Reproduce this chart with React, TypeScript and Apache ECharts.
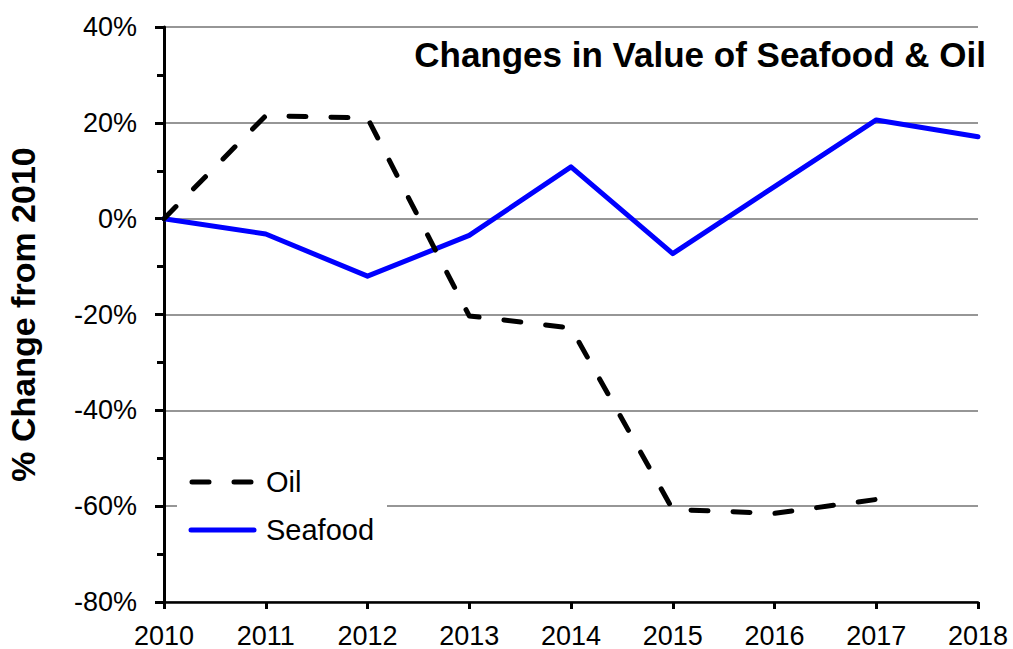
import React, { useEffect, useRef } from "react";
import * as echarts from "echarts";

const years = ["2010", "2011", "2012", "2013", "2014", "2015", "2016", "2017", "2018"];
const oil = [0, 21.5, 21.0, -20.3, -22.8, -60.7, -61.5, -58.6, null];
const seafood = [0, -3.2, -12.0, -3.5, 10.8, -7.3, 6.7, 20.6, 17.1];
const legendNames = ["Oil", "Seafood"];
const titleText = "Changes in Value of Seafood & Oil";
const yAxisName = "% Change from 2010";

const FONT = "'Liberation Sans', Arial, sans-serif";
const OIL_STYLE = { color: "#000", width: 5, type: [17, 25] as number[], cap: "round", join: "round" };
const SEA_STYLE = { color: "#0000ff", width: 5, cap: "round", join: "round" };

export default function App() {
  const ref = useRef<HTMLDivElement>(null);
  useEffect(() => {
    const chart = echarts.init(ref.current!, null, { renderer: "svg" });
    chart.setOption({
      animation: false,
      backgroundColor: "#fff",
      textStyle: { fontFamily: FONT },
      title: {
        text: titleText,
        right: 27,
        top: 37,
        padding: 0,
        textStyle: { fontFamily: FONT, fontWeight: "bold", fontSize: 35, color: "#000" },
      },
      graphic: [
        { type: "rect", left: 177, top: 460, shape: { width: 210, height: 92 }, style: { fill: "#fff" }, z: 50 },
        {
          type: "line",
          shape: { x1: 192, y1: 482, x2: 254, y2: 482 },
          style: { stroke: "#000", lineWidth: 5, lineDash: [17, 25], lineCap: "round" },
          z: 51,
        },
        {
          type: "line",
          shape: { x1: 191, y1: 530, x2: 254, y2: 530 },
          style: { stroke: "#0000ff", lineWidth: 5, lineCap: "round" },
          z: 51,
        },
        {
          type: "text",
          x: 266,
          y: 482,
          style: { text: legendNames[0], font: `29px ${FONT}`, fill: "#000", verticalAlign: "middle" },
          z: 51,
        },
        {
          type: "text",
          x: 266,
          y: 530,
          style: { text: legendNames[1], font: `29px ${FONT}`, fill: "#000", verticalAlign: "middle" },
          z: 51,
        },
      ],
      grid: { left: 164, right: 35, top: 27, bottom: 47, containLabel: false, outerBoundsMode: "none" },
      xAxis: {
        type: "category",
        data: years,
        boundaryGap: false,
        axisLine: { onZero: false, lineStyle: { color: "#000", width: 2.5 } },
        axisTick: { show: true, length: 7, inside: false, lineStyle: { color: "#000", width: 3 } },
        axisLabel: { fontFamily: FONT, fontSize: 27, color: "#000", margin: 20 },
        splitLine: { show: false },
      },
      yAxis: {
        type: "value",
        min: -80,
        max: 40,
        interval: 20,
        name: yAxisName,
        nameLocation: "middle",
        nameGap: 124,
        nameTextStyle: { fontFamily: FONT, fontWeight: "bold", fontSize: 34, color: "#000" },
        axisLine: { show: true, lineStyle: { color: "#000", width: 3 } },
        axisTick: { show: true, length: 9, lineStyle: { color: "#000", width: 3 } },
        minorTick: { show: true, splitNumber: 2, length: 7, lineStyle: { color: "#000", width: 3 } },
        axisLabel: { fontFamily: FONT, fontSize: 27, color: "#000", margin: 27, formatter: "{value}%" },
        splitLine: { show: true, lineStyle: { color: "#969696", width: 1.8 } },
      },
      series: [
        {
          name: legendNames[0],
          type: "line",
          data: oil,
          symbol: "none",
          connectNulls: false,
          lineStyle: OIL_STYLE,
          itemStyle: { color: "#000" },
          z: 3,
        },
        {
          name: legendNames[1],
          type: "line",
          data: seafood,
          symbol: "none",
          lineStyle: SEA_STYLE,
          itemStyle: { color: "#0000ff" },
          z: 2,
        },
      ],
    });
    return () => chart.dispose();
  }, []);
  return <div ref={ref} style={{ width: 1013, height: 649, position: "absolute", left: 0, top: 0 }} />;
}
